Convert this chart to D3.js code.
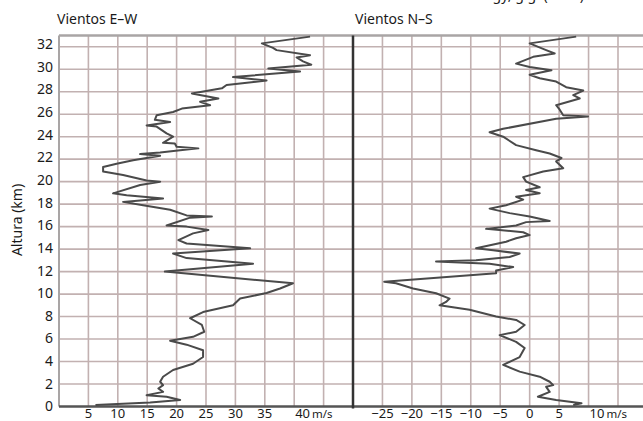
<!DOCTYPE html>
<html>
<head>
<meta charset="utf-8">
<script src="https://cdn.jsdelivr.net/npm/d3@7"></script>
<style>
  body { margin: 0; background: #fff; }
  text { font-family: "Noto Sans", sans-serif; fill: #1a1a1a; }
</style>
</head>
<body>
<div id="chart"></div>
<script>
// E–W wind profile (km, m/s)
const ewAltitude = [32.9, 32.3, 31.9, 31.7, 31.25, 31.05, 30.7, 30.4, 30.07, 29.8, 29.3, 29.0, 28.6, 28.3, 27.85, 27.4, 27.1, 26.8, 26.5, 26.2, 25.9, 25.5, 25.3, 25.0, 24.9, 24.3, 24.0, 23.45, 23.4, 23.1, 22.96, 22.8, 22.6, 22.45, 22.3, 21.9, 21.6, 21.3, 20.9, 20.6, 20.1, 20.0, 19.7, 18.96, 18.8, 18.5, 18.2, 17.9, 17.5, 17.0, 16.9, 16.8, 16.1, 16.0, 15.7, 15.4, 14.8, 14.5, 14.07, 13.6, 13.2, 12.7, 12.0, 10.96, 10.5, 10.1, 9.6, 9.0, 8.4, 7.85, 7.25, 6.65, 6.2, 5.85, 5.5, 5.0, 4.4, 3.8, 3.25, 2.65, 2.2, 1.9, 1.6, 1.3, 1.0, 0.87, 0.58, 0.35, 0.13];
const ewSpeed = [42.7, 34.5, 36.4, 37.0, 42.7, 40.4, 41.5, 42.9, 35.6, 41.0, 29.6, 35.3, 28.5, 27.7, 22.6, 27.1, 24.0, 25.7, 20.9, 19.4, 16.6, 16.3, 18.9, 14.9, 16.6, 18.3, 19.4, 17.7, 19.7, 20.0, 23.7, 20.6, 17.2, 13.8, 17.2, 12.6, 9.8, 7.5, 7.5, 10.9, 14.9, 17.2, 13.8, 9.2, 11.5, 17.7, 10.9, 14.3, 18.9, 21.7, 26.0, 22.3, 18.3, 21.7, 25.4, 22.8, 20.3, 21.7, 32.5, 19.4, 21.7, 33.0, 18.0, 39.8, 37.6, 35.3, 30.8, 29.6, 24.5, 22.3, 24.3, 24.7, 22.8, 18.9, 21.7, 24.5, 24.5, 22.8, 19.4, 17.7, 17.2, 17.7, 16.9, 17.7, 14.9, 18.3, 20.6, 15.5, 6.2];

// N–S wind profile (km, m/s)
const nsAltitude = [32.9, 32.3, 31.7, 31.4, 31.1, 30.5, 30.2, 29.9, 29.5, 29.2, 28.9, 28.4, 28.1, 27.7, 27.4, 26.8, 26.4, 25.9, 25.8, 25.6, 24.7, 24.4, 24.0, 23.25, 22.8, 22.5, 22.1, 21.8, 21.2, 20.9, 20.4, 20.0, 19.5, 19.25, 18.96, 18.66, 18.4, 17.9, 17.6, 17.2, 16.9, 16.5, 16.4, 16.1, 15.8, 15.5, 15.25, 14.96, 14.66, 14.07, 13.9, 13.6, 13.3, 13.0, 12.9, 12.7, 12.4, 12.1, 11.85, 11.1, 10.96, 10.5, 10.07, 9.6, 9.3, 9.0, 8.6, 8.0, 7.7, 7.25, 6.65, 6.35, 5.75, 5.2, 4.4, 3.7, 3.1, 2.65, 2.2, 1.9, 1.75, 1.3, 0.87, 0.58, 0.28, 0.13];
const nsSpeed = [7.9, 0.0, 2.8, 4.25, 0.6, -2.3, 0.0, 3.7, 0.0, 1.7, 4.5, 6.2, 9.1, 7.4, 8.5, 4.5, 5.1, 5.7, 9.9, 4.5, -4.5, -6.8, -4.5, -2.3, 1.1, 3.4, 5.4, 4.5, 5.7, 2.3, -1.1, -0.6, 1.7, -0.6, 1.7, -2.3, -1.1, -4.0, -6.8, -3.4, 0.0, 3.4, -0.6, -2.3, -7.4, -1.1, 0.0, -2.3, -4.0, -9.1, -6.2, -1.7, -3.4, -9.1, -15.9, -6.8, -2.8, -5.7, -5.7, -24.7, -22.7, -19.8, -15.9, -13.6, -14.2, -15.3, -10.2, -5.7, -2.3, -0.85, -2.3, -5.1, -2.3, -0.85, -1.7, -4.5, -1.7, 1.7, 3.4, 4.0, 2.8, 3.4, 1.4, 4.5, 8.8, 7.4];

const altitudeTicks = [0, 2, 4, 6, 8, 10, 12, 14, 16, 18, 20, 22, 24, 26, 28, 30, 32];
const ewTicks = [5, 10, 15, 20, 25, 30, 35, 40];
const nsTicks = [-25, -20, -15, -10, -5, 0, 5, 10];
const ewGrid = [5, 10, 15, 20, 25, 30, 35, 40, 45];
const nsGrid = [-25, -20, -15, -10, -5, 0, 5, 10, 15, 20];

const width = 643, height = 421;

const y = d3.scaleLinear().domain([0, 33]).range([406.5, 35.5]);
const xEW = d3.scaleLinear().domain([0, 50]).range([59, 353]);
const xNS = d3.scaleLinear().domain([-30, 15]).range([353, 618]);

const svg = d3.select('#chart').append('svg')
  .attr('width', width)
  .attr('height', height);

const gridColor = '#c2b1b1';

// horizontal grid
svg.append('g').selectAll('line')
  .data(altitudeTicks.filter(d => d > 0))
  .enter().append('line')
  .attr('x1', 59).attr('x2', width)
  .attr('y1', d => y(d)).attr('y2', d => y(d))
  .attr('stroke', gridColor).attr('stroke-width', 1.6);

// vertical grid
svg.append('g').selectAll('line')
  .data(ewGrid)
  .enter().append('line')
  .attr('x1', d => xEW(d)).attr('x2', d => xEW(d))
  .attr('y1', y(33)).attr('y2', y(0))
  .attr('stroke', gridColor).attr('stroke-width', 1.6);

svg.append('g').selectAll('line')
  .data(nsGrid)
  .enter().append('line')
  .attr('x1', d => xNS(d)).attr('x2', d => xNS(d))
  .attr('y1', y(33)).attr('y2', y(0))
  .attr('stroke', gridColor).attr('stroke-width', 1.6);

// frame
svg.append('line')
  .attr('x1', 59).attr('x2', width)
  .attr('y1', y(33)).attr('y2', y(33))
  .attr('stroke', '#a9a5a5').attr('stroke-width', 2.5);
svg.append('line')
  .attr('x1', xEW(0)).attr('x2', xEW(0))
  .attr('y1', y(33)).attr('y2', y(0))
  .attr('stroke', '#a9a5a5').attr('stroke-width', 2);
svg.append('line')
  .attr('x1', 59).attr('x2', width)
  .attr('y1', y(0)).attr('y2', y(0))
  .attr('stroke', '#555').attr('stroke-width', 2.5);
svg.append('line')
  .attr('x1', xNS(-30)).attr('x2', xNS(-30))
  .attr('y1', y(33)).attr('y2', y(0) + 2)
  .attr('stroke', '#333').attr('stroke-width', 2.5);

// profiles
const ewLine = d3.line()
  .x((d, i) => xEW(ewSpeed[i]))
  .y(d => y(d));
const nsLine = d3.line()
  .x((d, i) => xNS(nsSpeed[i]))
  .y(d => y(d));

svg.append('path')
  .attr('d', ewLine(ewAltitude))
  .attr('fill', 'none').attr('stroke', '#4a4a4a')
  .attr('stroke-width', 2).attr('stroke-linejoin', 'round');
svg.append('path')
  .attr('d', nsLine(nsAltitude))
  .attr('fill', 'none').attr('stroke', '#4a4a4a')
  .attr('stroke-width', 2).attr('stroke-linejoin', 'round');

// y labels
svg.append('g').selectAll('text')
  .data(altitudeTicks)
  .enter().append('text')
  .attr('x', 53)
  .attr('y', d => y(d) - d * 0.08)
  .attr('dy', '0.35em')
  .attr('text-anchor', 'end')
  .attr('font-size', 14)
  .text(d => d);

svg.append('text')
  .attr('transform', 'translate(22,220) rotate(-90)')
  .attr('text-anchor', 'middle')
  .attr('font-size', 14)
  .text('Altura (km)');

// x labels
const fmt = d => (d < 0 ? '\u2212' + Math.abs(d) : String(d));

function xLabels(ticks, scale) {
  const g = svg.append('g');
  ticks.forEach((d, i) => {
    const last = i === ticks.length - 1;
    const t = g.append('text')
      .attr('x', last ? scale(d) + 1 : scale(d))
      .attr('y', 418)
      .attr('text-anchor', last ? 'start' : 'middle')
      .attr('font-size', 13)
      .text(fmt(d));
    if (last) t.append('tspan').attr('dx', 2).attr('font-size', 11.5).text('m/s');
  });
}
xLabels(ewTicks, xEW);
xLabels(nsTicks, xNS);

// titles
svg.append('text').attr('x', 57).attr('y', 24).attr('font-size', 14).text('Vientos E\u2013W');
svg.append('text').attr('x', 355).attr('y', 24).attr('font-size', 14).text('Vientos N\u2013S');
svg.append('text').attr('x', 430).attr('y', 0).attr('font-size', 14).text('Climatology, g.g. (2001)');
</script>
</body>
</html>
